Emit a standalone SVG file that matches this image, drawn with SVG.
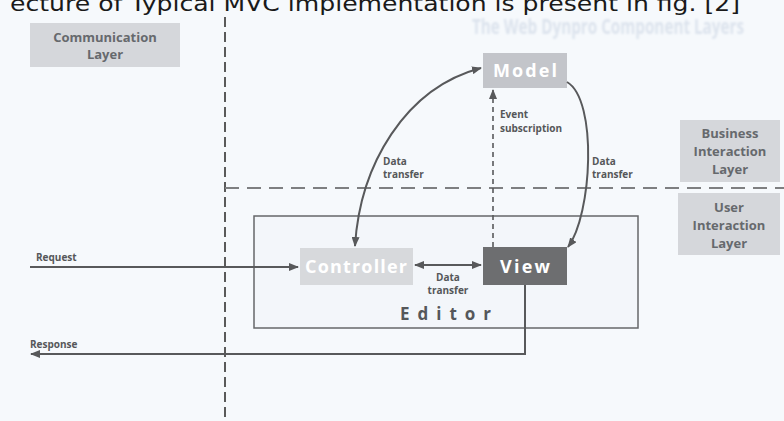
<svg xmlns="http://www.w3.org/2000/svg" width="784" height="421" viewBox="0 0 784 421">
  <style>
    .layer { fill: #d5d7db; }
    .layer-text { font-family: "Open Sans", "DejaVu Sans", sans-serif; font-weight: 700; font-size: 13px; fill: #66696d; text-anchor: middle; }
    .node-text { font-family: "Open Sans", "DejaVu Sans", sans-serif; font-weight: 700; font-size: 18px; fill: #ffffff; text-anchor: middle; }
    .label { font-family: "Open Sans", "DejaVu Sans", sans-serif; font-weight: 700; font-size: 10px; fill: #555759; }
    .flow { fill: none; stroke: #58595b; stroke-width: 2; }
    .boundary { fill: none; stroke: #5a5a5a; stroke-width: 2; }
  </style>
  <defs>
    <marker id="head" viewBox="0 0 10 8" refX="9" refY="4" markerWidth="10" markerHeight="8" markerUnits="userSpaceOnUse" orient="auto-start-reverse">
      <path d="M0,0 L10,4 L0,8 Z" fill="#58595b"/>
    </marker>
    <filter id="soft" filterUnits="userSpaceOnUse" x="440" y="0" width="344" height="60">
      <feGaussianBlur stdDeviation="1"/>
    </filter>
  </defs>

  <!-- page -->
  <rect x="0" y="0" width="784" height="421" fill="#f6f9fc"/>

  <!-- page text -->
  <text x="472" y="34" textLength="272" lengthAdjust="spacingAndGlyphs" font-family="Open Sans, DejaVu Sans, sans-serif" font-weight="700" font-size="21" fill="#dce3ed" filter="url(#soft)">The Web Dynpro Component Layers</text>
  <text x="10" y="11" textLength="730" lengthAdjust="spacingAndGlyphs" font-family="DejaVu Sans, sans-serif" font-size="22" fill="#1a1a1a">ecture of Typical MVC implementation is present in fig. [2]</text>

  <!-- layer boundaries -->
  <g id="boundaries">
    <line class="boundary" x1="225" y1="17" x2="225" y2="421" stroke-dasharray="10 5"/>
    <line x1="225" y1="188" x2="784" y2="188" fill="none" stroke="#7e7f81" stroke-width="2" stroke-dasharray="14 8"/>
  </g>

  <!-- layer labels -->
  <g id="communication-layer">
    <rect class="layer" x="30" y="23" width="150" height="44"/>
    <text class="layer-text" x="105" y="42">Communication</text>
    <text class="layer-text" x="105" y="59">Layer</text>
  </g>
  <g id="business-interaction-layer">
    <rect class="layer" x="680" y="120" width="100" height="62"/>
    <text class="layer-text" x="730" y="138">Business</text>
    <text class="layer-text" x="730" y="156">Interaction</text>
    <text class="layer-text" x="730" y="174">Layer</text>
  </g>
  <g id="user-interaction-layer">
    <rect class="layer" x="678" y="193" width="102" height="62"/>
    <text class="layer-text" x="729" y="212">User</text>
    <text class="layer-text" x="729" y="230">Interaction</text>
    <text class="layer-text" x="729" y="248">Layer</text>
  </g>

  <!-- editor container -->
  <g id="editor">
    <rect x="254" y="216" width="384" height="112" fill="#f3f6fa" stroke="#666769" stroke-width="1.5"/>
    <text x="400" y="320" font-family="Open Sans, DejaVu Sans, sans-serif" font-weight="700" font-size="17" letter-spacing="8" fill="#55575a">Editor</text>
  </g>

  <!-- nodes -->
  <g id="model">
    <rect x="483" y="53" width="84" height="35" fill="#c3c5ca"/>
    <text class="node-text" x="525" y="77" textLength="64" lengthAdjust="spacing">Model</text>
  </g>
  <g id="controller">
    <rect x="300" y="248" width="113" height="37" fill="#d7d9dc"/>
    <text class="node-text" x="356" y="273" textLength="102" lengthAdjust="spacing">Controller</text>
  </g>
  <g id="view">
    <rect x="483" y="247" width="84" height="38" fill="#6d6e70"/>
    <text class="node-text" x="525" y="273" textLength="50" lengthAdjust="spacing">View</text>
  </g>

  <!-- connectors -->
  <g id="connectors">
    <!-- controller <-> model -->
    <path class="flow" d="M355,246 C360,165 405,88 481,68" marker-start="url(#head)" marker-end="url(#head)"/>
    <!-- model -> view -->
    <path class="flow" d="M567,82 C598,100 592,215 568,247" marker-end="url(#head)"/>
    <!-- view subscribes to model events -->
    <line x1="493" y1="247" x2="493" y2="90" fill="none" stroke="#58595b" stroke-width="1.6" stroke-dasharray="5 4" marker-end="url(#head)"/>
    <!-- controller <-> view -->
    <line class="flow" x1="415" y1="265" x2="481" y2="265" marker-start="url(#head)" marker-end="url(#head)"/>
    <!-- request -->
    <line class="flow" x1="30" y1="267" x2="298" y2="267" marker-end="url(#head)"/>
    <!-- response -->
    <path class="flow" d="M525,285 L525,354 L31,354" marker-end="url(#head)"/>
  </g>

  <!-- connector labels -->
  <g id="connector-labels">
    <text class="label" x="383" y="165">Data</text>
    <text class="label" x="383" y="178">transfer</text>
    <text class="label" x="592" y="165">Data</text>
    <text class="label" x="592" y="178">transfer</text>
    <text class="label" x="500" y="118">Event</text>
    <text class="label" x="500" y="132">subscription</text>
    <text class="label" x="448" y="281" text-anchor="middle">Data</text>
    <text class="label" x="448" y="294" text-anchor="middle">transfer</text>
    <text class="label" x="36" y="261">Request</text>
    <text class="label" x="30" y="348">Response</text>
  </g>
</svg>
